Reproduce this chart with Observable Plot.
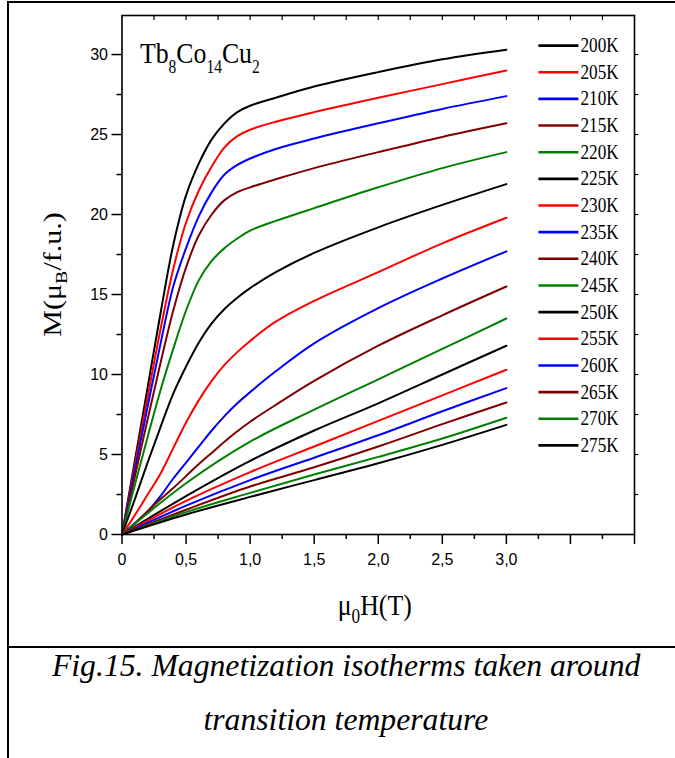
<!DOCTYPE html>
<html><head><meta charset="utf-8">
<script src="https://cdn.jsdelivr.net/npm/d3@7"></script>
<script src="https://cdn.jsdelivr.net/npm/@observablehq/plot@0.6"></script>
<style>
html,body{margin:0;padding:0;background:#fff;}
#fig{position:absolute;left:7px;top:1px;width:668px;border-left:2px solid #000;border-top:2px solid #000;}
#chart svg{display:block;}
#caption{border-top:2px solid #000;height:110px;font-family:"Liberation Serif",serif;font-style:italic;font-size:32px;line-height:54px;text-align:center;}
#caption .in{position:relative;top:-10px;left:3px;}
#caption span{display:inline-block;transform:scaleX(0.99);transform-origin:50% 50%;white-space:nowrap;}
</style>
</head><body>
<div id="fig"><div id="chart"></div><div id="caption"><div class="in"><span>Fig.15. Magnetization isotherms taken around</span><br><span>transition temperature</span></div></div></div>
<script>
// ---- data ----
const temps = ["200K","205K","210K","215K","220K","225K","230K","235K","240K","245K","250K","255K","260K","265K","270K","275K"];
const lineColors = ["#000000","#ff0000","#0000ff","#800000","#008000","#000000","#ff0000","#0000ff","#800000","#008000","#000000","#ff0000","#0000ff","#800000","#008000","#000000"];
const H_fine = [0,0.1,0.2,0.3,0.4,0.5,0.6,0.7,0.8,0.9,1.0,1.2,1.5,2.0,2.5,3.0];
const H_coarse = [0,0.5,1.0,1.5,2.0,2.5,3.0];
const M200 = [0,4.6,9.2,13.8,18.1,21.2,23.2,24.7,25.7,26.4,26.8,27.3,28.0,28.9,29.7,30.3];
const M205 = [0,4.3,8.6,12.8,16.6,19.5,21.5,23.0,24.2,24.9,25.3,25.8,26.4,27.3,28.15,29.0];
const M210 = [0,4.0,8.0,11.9,15.5,17.9,19.9,21.4,22.5,23.1,23.5,24.1,24.75,25.7,26.6,27.4];
const M215 = [0,3.6,7.2,10.7,14.0,16.7,18.7,20.0,20.9,21.4,21.7,22.2,22.9,23.9,24.85,25.7];
const M220 = [0,3.1,6.1,9.0,11.6,14.0,15.9,17.1,17.9,18.5,19.0,19.6,20.4,21.7,22.9,23.9];
const M225 = [0,2.2,4.5,6.7,8.8,10.5,12.0,13.2,14.1,14.8,15.4,16.4,17.6,19.2,20.6,21.9];
const M230 = [0,1.2,2.5,3.8,5.4,7.0,8.4,9.6,10.6,11.4,12.1,13.3,14.6,16.4,18.2,19.8];
const M235 = [0,0.7,1.45,2.4,3.5,4.5,5.5,6.5,7.4,8.2,8.9,10.2,11.95,14.15,16.0,17.7];
const M240 = [0,0.7,1.45,2.2,2.9,3.65,4.4,5.1,5.8,6.45,7.05,8.1,9.6,11.8,13.7,15.5];
const M245 = [0,3.2,5.8,7.8,9.7,11.6,13.5];
const M250 = [0,2.4,4.6,6.5,8.2,10.0,11.8];
const M255 = [0,2.1,3.9,5.5,7.1,8.7,10.3];
const M260 = [0,1.8,3.4,4.8,6.2,7.7,9.15];
const M265 = [0,1.55,3.0,4.2,5.5,6.9,8.25];
const M270 = [0,1.4,2.6,3.75,4.85,6.0,7.3];
const M275 = [0,1.25,2.35,3.4,4.45,5.6,6.85];
const xTicks = [0,0.5,1.0,1.5,2.0,2.5,3.0,3.5,4.0];
const xTickLabels = ["0","0,5","1,0","1,5","2,0","2,5","3,0","",""];
const yTicks = [0,5,10,15,20,25,30];
const yTickLabels = ["0","5","10","15","20","25","30"];

// ---- build table ----
const seriesM = [M200,M205,M210,M215,M220,M225,M230,M235,M240,M245,M250,M255,M260,M265,M270,M275];
const rows = [];
seriesM.forEach((M, i) => {
  const H = M.length === H_fine.length ? H_fine : H_coarse;
  H.forEach((h, j) => rows.push({T: temps[i], H: h, M: M[j]}));
});
const xLab = new Map(xTicks.map((t, i) => [t, xTickLabels[i]]));
const yLab = new Map(yTicks.map((t, i) => [t, yTickLabels[i]]));
const xMinor = d3.range(0.25, 4, 0.5);
const xQuarter = d3.range(0.25, 4.0, 0.25);
const yMinor = d3.range(2.5, 32, 5);
const yAll = d3.range(2.5, 32.4, 2.5);
const legend = temps.map((t, i) => ({T: t, i}));
const legY = d => 30.56 - 1.666 * d.i;

const plot = Plot.plot({
  width: 666, height: 643,
  marginLeft: 112.5, marginRight: 41, marginTop: 12, marginBottom: 112,
  style: {fontFamily: "Liberation Sans, Arial, sans-serif", fontSize: "16px", color: "#000", background: "#fff", overflow: "visible"},
  x: {domain: [0, 4]},
  y: {domain: [0, 32.44]},
  color: {domain: temps, range: lineColors},
  marks: [
    Plot.line(rows, {x: "H", y: "M", z: "T", stroke: "T", strokeWidth: 2, curve: "catmull-rom"}),
    Plot.ruleY(legend, {x1: 3.254, x2: 3.566, y: legY, stroke: "T", strokeWidth: 2.6}),
    Plot.axisX({ticks: xTicks, tickSize: 10, tickPadding: 9, tickFormat: d => xLab.get(d), label: null, strokeWidth: 1.5, fontSize: 16}),
    Plot.axisX({ticks: xMinor, tickSize: 5, tickFormat: () => "", label: null, strokeWidth: 1.5}),
    Plot.axisX({anchor: "top", ticks: xQuarter, tickSize: -4, tickFormat: () => "", label: null, strokeWidth: 1.2}),
    Plot.axisY({ticks: yTicks, tickSize: 10, tickPadding: 4, tickFormat: d => yLab.get(d), label: null, strokeWidth: 1.5, fontSize: 16}),
    Plot.axisY({ticks: yMinor, tickSize: 5, tickFormat: () => "", label: null, strokeWidth: 1.5}),
    Plot.axisY({anchor: "right", ticks: yAll, tickSize: 3, tickFormat: () => "", label: null, strokeWidth: 1.2}),
    Plot.frame({strokeWidth: 1.6})
  ]
});
document.getElementById("chart").appendChild(plot);

// ---- serif labels with subscripts, placed through the plot's scales ----
const sx = plot.scale("x"), sy = plot.scale("y");
const svg = d3.select(plot);
const serif = "Liberation Serif, Times New Roman, serif";
const [x0, x1] = sx.range;
const [yb, yt] = sy.range;

// compound label
const tg = svg.append("g").attr("transform", `translate(${sx.apply(0.144)},${sy.apply(29.44)}) scale(0.86,1)`);
const tt = tg.append("text").attr("font-family", serif).attr("font-size", 30).attr("text-anchor", "start").attr("fill", "#000");
[["Tb",0,30],["8",10,18],["Co",-10,30],["14",10,18],["Cu",-10,30],["2",10,18]].forEach(([s, dy, fs]) =>
  tt.append("tspan").attr("dy", dy).attr("font-size", fs).text(s));

// legend texts
legend.forEach(d => {
  svg.append("g").attr("transform", `translate(${sx.apply(3.582)},${sy.apply(legY(d)) + 7}) scale(0.86,1)`)
    .append("text").attr("font-family", serif).attr("font-size", 20).attr("text-anchor", "start").attr("fill", "#000").text(d.T);
});

// x axis title
const xg = svg.append("g").attr("transform", `translate(${(x0 + x1) / 2 - 3},${yb + 81}) scale(0.86,1)`);
const xt = xg.append("text").attr("font-family", serif).attr("font-size", 30).attr("text-anchor", "middle").attr("fill", "#000");
xt.append("tspan").text("\u03bc");
xt.append("tspan").attr("dy", 8).attr("font-size", 20).text("0");
xt.append("tspan").attr("dy", -8).text("H(T)");

// y axis title
const yg = svg.append("g").attr("transform", `translate(${x0 - 61},${(yb + yt) / 2}) rotate(-90) scale(1,0.86)`);
const yt2 = yg.append("text").attr("font-family", serif).attr("font-size", 30).attr("text-anchor", "middle").attr("fill", "#000");
yt2.append("tspan").text("M(\u03bc");
yt2.append("tspan").attr("dy", 8).attr("font-size", 20).text("B");
yt2.append("tspan").attr("dy", -8).text("/f.u.)");
</script>
</body></html>
